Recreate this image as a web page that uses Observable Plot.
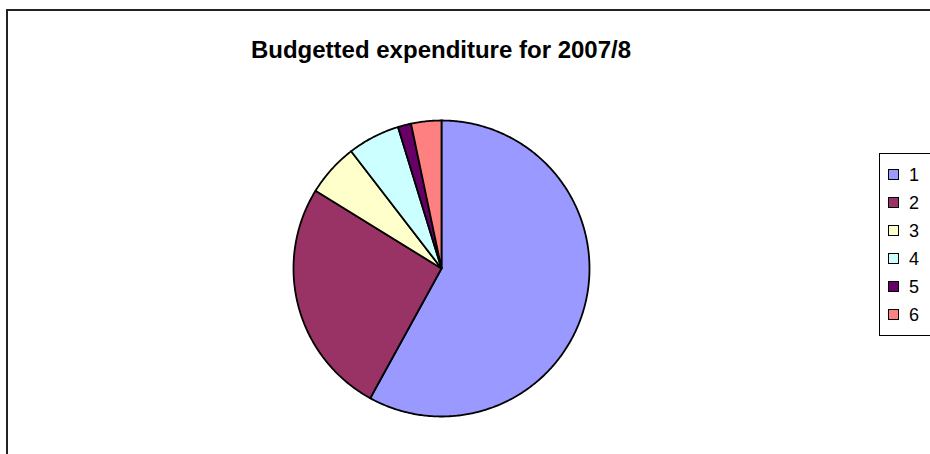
<!DOCTYPE html>
<html><head><meta charset="utf-8">
<script src="https://cdn.jsdelivr.net/npm/d3@7"></script>
<script src="https://cdn.jsdelivr.net/npm/@observablehq/plot@0.6"></script>
<style>
html,body{margin:0;padding:0;background:#fff;font-family:"Liberation Sans",Arial,sans-serif;overflow:hidden}
#wrap{position:relative;width:930px;height:454px;overflow:hidden;background:#fff}
#frame{position:absolute;left:6px;top:9px;width:1200px;height:800px;border-left:2px solid #222;border-top:2px solid #222}
#title{position:absolute;top:36px;left:0;width:882px;text-align:center;font-weight:bold;font-size:24px;line-height:28px;color:#000}
#chart{position:absolute;left:0;top:0}
#legend{position:absolute;left:879px;top:153px;width:100px;height:183px;border:1px solid #000;box-sizing:border-box;background:#fff}
.item{position:absolute;left:8px;font-size:18px;line-height:18px;height:18px;white-space:nowrap;color:#000}
.sw{display:inline-block;width:9px;height:9px;border:1px solid #000;margin-right:10px;vertical-align:1px}
</style>
</head><body>
<div id="wrap">
  <div id="frame"></div>
  <div id="chart"></div>
  <div id="title"></div>
  <div id="legend"></div>
</div>
<script>
const title = "Budgetted expenditure for 2007/8";
const categories = ["1", "2", "3", "4", "5", "6"];
const values = [58.0, 25.8, 5.75, 5.7, 1.45, 3.3];
const colors = ["#9999FF", "#993366", "#FFFFCC", "#CCFFFF", "#660066", "#FF8080"];

document.getElementById("title").textContent = title;

// slice outlines in unit-circle data coordinates, from d3.pie angles
const arcs = d3.pie().sort(null).value(d => d)(values);
const pts = [];
arcs.forEach((a, i) => {
  const cat = categories[i];
  pts.push({cat, x: 0, y: 0});
  const n = Math.max(2, Math.ceil((a.endAngle - a.startAngle) / 0.01));
  for (let k = 0; k <= n; k++) {
    const t = a.startAngle + (a.endAngle - a.startAngle) * k / n;
    pts.push({cat, x: Math.sin(t), y: Math.cos(t)});
  }
  pts.push({cat, x: 0, y: 0});
});

const cx = 441, cy = 268, r = 148;
const chart = Plot.plot({
  width: 930,
  height: 454,
  x: {domain: [-1, 1], range: [cx - r, cx + r], axis: null},
  y: {domain: [-1, 1], range: [cy + r, cy - r], axis: null},
  color: {domain: categories, range: colors},
  marks: [
    Plot.line(pts, {x: "x", y: "y", z: "cat", fill: "cat", stroke: "#000", strokeWidth: 1.8, strokeLinejoin: "round", curve: "linear"})
  ]
});
document.getElementById("chart").appendChild(chart);

const legend = document.getElementById("legend");
categories.forEach((c, i) => {
  const it = document.createElement("div");
  it.className = "item";
  it.style.top = (12 + i * 28) + "px";
  const sw = document.createElement("span");
  sw.className = "sw";
  sw.style.background = colors[i];
  it.appendChild(sw);
  it.appendChild(document.createTextNode(c));
  legend.appendChild(it);
});
</script>
</body></html>
